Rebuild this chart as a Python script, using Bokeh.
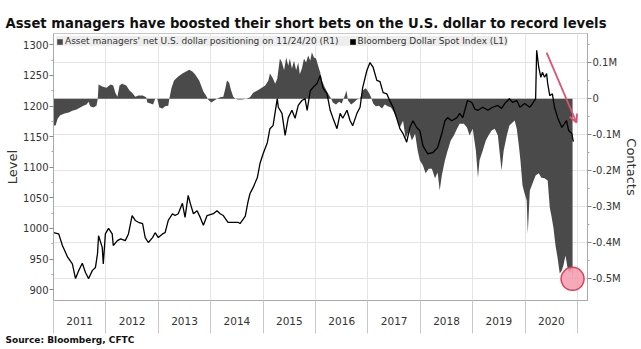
from bokeh.plotting import figure
from bokeh.models import (Range1d, LinearAxis, FixedTicker, Legend, LegendItem,
                          Arrow, OpenHead, Title)
from bokeh.embed import file_html
from bokeh.resources import INLINE

TITLE = "Asset managers have boosted their short bets on the U.S. dollar to record levels"
SOURCE = "Source: Bloomberg, CFTC"
POS_NAME = "Asset managers' net U.S. dollar positioning on 11/24/20 (R1)"
DXY_NAME = "Bloomberg Dollar Spot Index (L1)"

years = list(range(2011, 2021))
year_labels = [str(y) for y in years]
level_ticks = [900, 950, 1000, 1050, 1100, 1150, 1200, 1250, 1300]
contract_ticks = [-500000, -400000, -300000, -200000, -100000, 0, 100000]
contract_labels = ["-0.5M", "-0.4M", "-0.3M", "-0.2M", "-0.1M", "0", "0.1M"]

# Asset managers' net positioning (thousands of contracts)
pos_t = [2011.00, 2011.04, 2011.08, 2011.13, 2011.21, 2011.29, 2011.36, 2011.44, 2011.51, 2011.57, 2011.63, 2011.67, 2011.70, 2011.76, 2011.82, 2011.845, 2011.86, 2011.93,
         2012.01, 2012.09, 2012.14, 2012.18, 2012.22, 2012.26, 2012.31, 2012.39, 2012.45, 2012.50, 2012.56, 2012.62, 2012.70, 2012.77, 2012.79, 2012.85, 2012.90, 2012.94, 2012.98,
         2013.02, 2013.08, 2013.13, 2013.19, 2013.21, 2013.25, 2013.30, 2013.38, 2013.46, 2013.53, 2013.59, 2013.65, 2013.70, 2013.78, 2013.86, 2013.91, 2013.95,
         2014.01, 2014.07, 2014.12, 2014.18, 2014.24, 2014.28, 2014.31, 2014.35, 2014.39, 2014.43, 2014.47, 2014.52, 2014.60, 2014.68, 2014.75, 2014.81, 2014.89, 2014.96,
         2015.04, 2015.10, 2015.13, 2015.19, 2015.23, 2015.27, 2015.32, 2015.36, 2015.40, 2015.44, 2015.48, 2015.51, 2015.55, 2015.59, 2015.63, 2015.67, 2015.70, 2015.74, 2015.78, 2015.82, 2015.86, 2015.90, 2015.93, 2015.97,
         2016.01, 2016.05, 2016.09, 2016.12, 2016.18, 2016.24, 2016.30, 2016.33, 2016.39, 2016.45, 2016.50, 2016.56, 2016.59, 2016.62, 2016.68, 2016.73, 2016.79, 2016.85, 2016.90, 2016.96,
         2017.02, 2017.06, 2017.10, 2017.15, 2017.21, 2017.27, 2017.32, 2017.38, 2017.44, 2017.50, 2017.55, 2017.61, 2017.67, 2017.72, 2017.78, 2017.84, 2017.90, 2017.95, 2017.99,
         2018.05, 2018.10, 2018.16, 2018.22, 2018.28, 2018.33, 2018.37, 2018.41, 2018.47, 2018.52, 2018.58, 2018.64, 2018.70, 2018.75, 2018.83, 2018.89, 2018.94,
         2019.00, 2019.06, 2019.10, 2019.13, 2019.19, 2019.25, 2019.30, 2019.36, 2019.42, 2019.48, 2019.51, 2019.55, 2019.59, 2019.65, 2019.70, 2019.76, 2019.80, 2019.84, 2019.88, 2019.91, 2019.95, 2019.99,
         2020.03, 2020.05, 2020.09, 2020.14, 2020.20, 2020.26, 2020.31, 2020.37, 2020.43, 2020.47, 2020.50, 2020.54, 2020.58, 2020.62, 2020.66, 2020.70, 2020.73, 2020.77, 2020.81, 2020.85, 2020.89, 2020.905]
pos_k = [-74, -74, -55, -46, -41, -38, -33, -30, -24, -19, -16, -8, -21, -24, -19, 0, 40, 34,
         31, 40, 37, 17, 6, 37, 42, 37, 23, 17, 6, 9, 9, 4, -10, -13, -16, 0, 0,
         -24, -27, -21, -19, 0, 29, 51, 62, 70, 76, 81, 76, 68, 51, 20, 9, -2,
         -10, -5, 0, 4, 6, 29, 51, 45, 23, 6, 0, -2, -2, 0, 4, 17, 23, 29,
         37, 51, 70, 56, 42, 56, 112, 101, 79, 115, 92, 112, 84, 106, 79, 101, 68, 84, 112, 101, 120, 106, 129, 115,
         112, 92, 73, 51, 31, 15, 0, -10, -16, -8, -13, 9, 23, -5, -16, -10, -2, 0, 23, 29,
         17, 4, -13, -21, -19, -27, -16, -21, -24, -38, -55, -80, -61, -110, -88, -116, -97, -144, -171,
         -185, -207, -194, -194, -221, -205, -255, -213, -171, -144, -116, -102, -83, -69, -69, -80, -102,
         -83, -144, -219, -171, -144, -116, -102, -88, -83, -102, -144, -199, -144, -102, -74, -66, -60, -83, -130, -171, -241, -263,
         -282, -374, -255, -235, -213, -207, -219, -221, -227, -302, -324, -358, -408, -443, -485, -477, -463, -435, -471, -482, -471, -505]

# Bloomberg Dollar Spot Index level
dxy_t = [2011.00, 2011.10, 2011.17, 2011.27, 2011.36, 2011.42, 2011.48, 2011.55, 2011.61, 2011.67, 2011.74, 2011.80, 2011.84, 2011.86, 2011.93, 2011.95, 2011.99,
         2012.05, 2012.12, 2012.14, 2012.22, 2012.28, 2012.37, 2012.43, 2012.50, 2012.56, 2012.62, 2012.70, 2012.75, 2012.81, 2012.89, 2012.94,
         2013.00, 2013.08, 2013.13, 2013.19, 2013.27, 2013.32, 2013.38, 2013.46, 2013.51, 2013.57, 2013.61, 2013.67, 2013.74, 2013.80, 2013.86, 2013.93,
         2014.05, 2014.12, 2014.18, 2014.24, 2014.33, 2014.43, 2014.52, 2014.56, 2014.66, 2014.71, 2014.75, 2014.81, 2014.89, 2014.94,
         2015.00, 2015.08, 2015.13, 2015.19, 2015.27, 2015.29, 2015.36, 2015.42, 2015.48, 2015.55, 2015.61, 2015.67, 2015.74, 2015.80, 2015.84, 2015.90, 2015.95,
         2016.03, 2016.09, 2016.14, 2016.22, 2016.28, 2016.33, 2016.41, 2016.47, 2016.52, 2016.60, 2016.66, 2016.71, 2016.79, 2016.85, 2016.90, 2016.98,
         2017.04, 2017.10, 2017.17, 2017.23, 2017.29, 2017.36, 2017.42, 2017.48, 2017.55, 2017.61, 2017.67, 2017.74, 2017.80, 2017.86, 2017.93, 2017.99,
         2018.05, 2018.14, 2018.24, 2018.33, 2018.41, 2018.47, 2018.52, 2018.60, 2018.70, 2018.75, 2018.81, 2018.90, 2018.98,
         2019.04, 2019.10, 2019.19, 2019.29, 2019.38, 2019.48, 2019.55, 2019.61, 2019.70, 2019.76, 2019.84, 2019.90, 2019.99,
         2020.09, 2020.14, 2020.20, 2020.22, 2020.26, 2020.30, 2020.33, 2020.37, 2020.41, 2020.43, 2020.47, 2020.52, 2020.56, 2020.62, 2020.70, 2020.75, 2020.79, 2020.83, 2020.89, 2020.92]
dxy_v = [993, 991, 972, 953, 942, 918, 931, 943, 928, 918, 931, 936, 959, 988, 969, 942, 991,
         1000, 991, 972, 980, 983, 980, 991, 1021, 1013, 1010, 1008, 985, 977, 985, 993,
         985, 991, 993, 1013, 1024, 1021, 1024, 1041, 1018, 1054, 1041, 1024, 1029, 1018, 1005, 1021,
         1024, 1029, 1024, 1021, 1010, 1010, 1010, 1008, 1020, 1043, 1057, 1067, 1083, 1106,
         1122, 1140, 1163, 1168, 1212, 1198, 1188, 1152, 1181, 1193, 1180, 1201, 1209, 1212, 1193, 1225, 1230,
         1237, 1250, 1230, 1220, 1193, 1181, 1163, 1188, 1180, 1193, 1176, 1168, 1188, 1198, 1230, 1258,
         1271, 1263, 1242, 1240, 1222, 1220, 1208, 1198, 1180, 1163, 1155, 1141, 1165, 1176, 1165, 1160,
         1135, 1122, 1124, 1132, 1155, 1176, 1181, 1176, 1181, 1188, 1181, 1209, 1206,
         1195, 1193, 1198, 1193, 1198, 1201, 1196, 1204, 1212, 1206, 1209, 1198, 1204,
         1198, 1204, 1212, 1291, 1263, 1247, 1255, 1247, 1253, 1237, 1217, 1220, 1198, 1181, 1165, 1171, 1176, 1160, 1155, 1142]

# annotations (data units)
mark_t, mark_v = 2020.905, -500000
arrow_from = (2020.41, 128000)
arrow_to = (2020.98, -66000)

FONT = "DejaVu Sans"
GRID = "#e4e4e4"
TXT = "#333333"
NAN = float("nan")

pos_v = [k * 1000 for k in pos_k]

p = figure(width=641, height=349, output_backend="svg", toolbar_location=None,
           x_range=Range1d(2011.0, 2021.19), y_range=Range1d(-560300, 181400),
           y_axis_location="right",
           min_border_left=53, min_border_right=52, min_border_top=33, min_border_bottom=49,
           background_fill_color="white", border_fill_color="white")
p.extra_y_ranges = {"lvl": Range1d(882.2, 1318.5)}
p.outline_line_color = "#c8c8c8"

# title & source
p.title.text = TITLE
p.title.text_font = FONT
p.title.text_font_style = "bold"
p.title.text_font_size = "13.2px"
p.title.text_color = "#111111"
p.title.offset = -48
p.title.standoff = 6
p.add_layout(Title(text=SOURCE, text_font=FONT, text_font_style="bold", text_font_size="9px",
                   text_color="#111111", offset=-48, align="left"), "below")

# grids
p.ygrid.grid_line_color = GRID
p.xgrid.grid_line_color = GRID
p.xgrid.ticker = FixedTicker(ticks=years + [2021])

# right axis (contracts)
ra = p.yaxis[0]
ra.ticker = FixedTicker(ticks=contract_ticks,
                        minor_ticks=[t + 50000 for t in contract_ticks])
ra.major_label_overrides = dict(zip(contract_ticks, contract_labels))
ra.axis_label = "Contacts"

# left axis (level)
la = LinearAxis(y_range_name="lvl", axis_label="Level",
                ticker=FixedTicker(ticks=level_ticks, minor_ticks=[t + 25 for t in level_ticks]))
p.add_layout(la, "left")

for ax in (ra, la):
    ax.axis_line_color = "#aaaaaa"
    ax.major_tick_line_color = "#888888"
    ax.minor_tick_line_color = "#aaaaaa"
    ax.major_tick_in = 0
    ax.major_tick_out = 4
    ax.minor_tick_in = 0
    ax.minor_tick_out = 2
    ax.major_label_text_font = FONT
    ax.major_label_text_font_size = "10px"
    ax.major_label_text_color = TXT
    ax.major_label_standoff = 1
    ax.axis_label_text_font = FONT
    ax.axis_label_text_font_style = "normal"
    ax.axis_label_text_font_size = "13px"
    ax.axis_label_text_color = TXT
    ax.axis_label_standoff = 0

# bottom axis: labels centred in each year, separators at year boundaries
xa = p.xaxis[0]
xa.ticker = FixedTicker(ticks=[y + 0.5 for y in years], minor_ticks=years + [2021])
xa.major_label_overrides = dict(zip([y + 0.5 for y in years], year_labels))
xa.major_tick_line_color = None
xa.major_tick_in = 0
xa.major_tick_out = 0
xa.minor_tick_in = 0
xa.minor_tick_out = 33
xa.minor_tick_line_color = "#c8c8c8"
xa.axis_line_color = "#aaaaaa"
xa.major_label_standoff = -17
xa.major_label_text_font = FONT
xa.major_label_text_font_size = "10.5px"
xa.major_label_text_color = TXT

# data
r_pos = p.varea(x=pos_t, y1=[0] * len(pos_t), y2=pos_v, fill_color="#4a4a4a")
r_dxy = p.line(x=dxy_t, y=dxy_v, y_range_name="lvl", line_color="black", line_width=1.3)

# legend swatch for the index (square like the original); NaN = nothing drawn in plot
sw2 = p.quad(left=[NAN], right=[NAN], top=[NAN], bottom=[NAN], fill_color="black", line_color=None)
legend = Legend(items=[LegendItem(label=POS_NAME, renderers=[r_pos]),
                       LegendItem(label=DXY_NAME, renderers=[sw2])],
                location="top_left", orientation="horizontal",
                label_text_font=FONT, label_text_font_size="9px", label_text_color=TXT,
                glyph_width=7, glyph_height=7, label_standoff=2, spacing=10,
                padding=2, margin=3, label_height=9,
                background_fill_color="#eeeeee", background_fill_alpha=1,
                border_line_color=None)
p.add_layout(legend, "center")

# annotations
p.scatter(x=[mark_t], y=[mark_v], size=23, marker="circle",
          fill_color="#f59aab", fill_alpha=0.85, line_color="#d6415f", line_width=1.5)
p.add_layout(Arrow(x_start=arrow_from[0], y_start=arrow_from[1], x_end=arrow_to[0], y_end=arrow_to[1],
                   line_color="#dc5470", line_width=1.8,
                   end=OpenHead(size=8, line_color="#dc5470", line_width=1.8)))

open("out.html", "w").write(file_html(p, INLINE))
